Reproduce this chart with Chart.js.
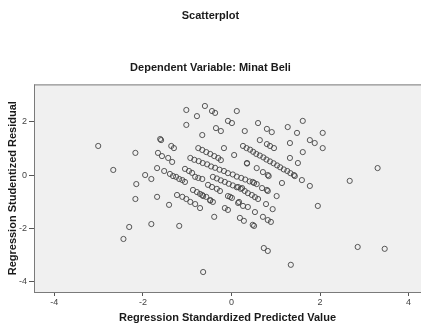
<!DOCTYPE html>
<html>
<head>
<meta charset="utf-8">
<script src="https://cdn.jsdelivr.net/npm/chart.js@4"></script>
<style>
  html, body { margin: 0; padding: 0; background: #fff; }
  #wrap { width: 421px; height: 325px; }
</style>
</head>
<body>
<div id="wrap"><canvas id="myChart"></canvas></div>
<script>
// regression standardized predicted value (x) and studentized residual (y)
const predicted = [
  -3.01, -2.67, -2.17, -2.15, -2.17, -2.31, -2.44, -1.95, -1.81, -1.68, -1.81, -1.41, -1.18, -0.64, -0.39,
  -1.02, -1.02, -0.78, -0.60, -0.44, -0.37, -0.66, 0.12, -0.35, -0.24, -0.08, 0.01, -0.17, 0.06, 0.60, 0.30,
  0.80, 0.91, 1.27, 1.48, 1.61, 0.64, 0.80, 0.87, 0.96, 1.32, 1.77, 1.88, 2.06, 2.06, 1.61, 1.32, 1.50,
  0.35, 0.35, 0.57, 0.71, 0.82, 1.59, 1.77, 1.43, 2.67, 3.30, 1.95, 2.85, 3.46, 1.34, 0.73, 0.82,
  -1.61, -1.59, -1.36, -1.30, -1.66, -1.57, -1.43, -1.34, -1.68, -1.52, -1.39, -1.32, -1.25, -1.18, -1.11, -1.05,
  -0.75, -0.66, -0.57, -0.48, -0.39, -0.30, -0.24,
  -0.93, -0.84, -0.74, -0.65, -0.55, -0.46, -0.37, -0.27, -0.17, -0.08, 0.03, 0.12, 0.22, 0.31, 0.41, 0.51,
  0.26, 0.34, 0.42, 0.49, 0.56, 0.64, 0.72, 0.79, 0.87, 0.95, 1.03, 1.10, 1.18, 1.26, 1.33, 1.41,
  -0.42, -0.33, -0.24, -0.15, -0.06, 0.03, 0.12, 0.21,
  0.48, 0.57, 0.69, 0.80, 0.82,
  -1.05, -0.96, -0.89, -0.82, -0.75, -0.66,
  -0.53, -0.44, -0.33, -0.26,
  -1.23, -1.11, -1.02, -0.93, -0.82, -0.71,
  -0.87, -0.78, -0.71, -0.64,
  0.15, 0.24, 0.30, 0.37, 0.46, 0.53, 0.60,
  -0.48, -0.48, -0.66, -0.57, -0.42, -0.08, -0.03, 0.01, 0.17, 0.78, 0.93, 1.02, 1.14, 0.84,
  0.53, 0.71, 0.82, 0.89, 0.19, 0.28, 0.48, 0.51, -0.15, -0.08, 0.15, 0.26, 0.37
];
const residual = [
  1.10, 0.20, 0.84, -0.33, -0.89, -1.94, -2.39, 0.01, -0.14, -0.81, -1.83, -1.11, -1.90, -3.63, -1.56,
  2.45, 1.89, 2.22, 2.60, 2.41, 2.34, 1.51, 2.41, 1.77, 1.66, 2.04, 1.96, 1.02, 0.76, 1.96, 1.66,
  1.74, 1.62, 1.81, 1.59, 2.04, 1.32, 1.17, 1.10, 1.02, 1.21, 1.32, 1.21, 1.59, 1.02, 0.87, 0.65, 0.46,
  0.46, 0.44, 0.27, 0.12, 0.01, -0.18, -0.40, -0.03, -0.21, 0.27, -1.15, -2.69, -2.76, -3.36, -2.73, -2.84,
  1.36, 1.32, 1.10, 1.02, 0.84, 0.72, 0.65, 0.50, 0.27, 0.16, 0.05, -0.03, -0.06, -0.14, -0.18, -0.25,
  1.02, 0.95, 0.87, 0.80, 0.72, 0.65, 0.57,
  0.65, 0.58, 0.53, 0.46, 0.41, 0.33, 0.28, 0.21, 0.16, 0.08, 0.03, -0.05, -0.10, -0.16, -0.23, -0.29,
  1.10, 1.02, 0.96, 0.88, 0.80, 0.74, 0.67, 0.59, 0.52, 0.45, 0.37, 0.30, 0.22, 0.16, 0.08, 0.01,
  -0.06, -0.12, -0.19, -0.25, -0.32, -0.38, -0.45, -0.51,
  -0.25, -0.33, -0.48, -0.55, -0.59,
  0.24, 0.16, 0.09, -0.06, -0.10, -0.14,
  -0.36, -0.44, -0.51, -0.59,
  -0.74, -0.81, -0.89, -1.00, -1.08, -1.23,
  -0.55, -0.63, -0.70, -0.78,
  -0.44, -0.48, -0.59, -0.67, -0.74, -0.82, -0.89,
  -0.93, -0.95, -0.74, -0.81, -1.00, -0.78, -0.81, -0.85, -1.00, -1.08, -1.27, -0.78, -0.29, -0.03,
  -1.38, -1.56, -1.68, -1.75, -1.60, -1.71, -1.86, -1.90, -1.23, -1.30, -1.04, -1.15, -1.19
];
const xTicks = [-4, -2, 0, 2, 4];
const yTicks = [-4, -2, 0, 2];

const FONT = 'Liberation Sans, Arial, sans-serif';

const points = predicted.map((x, i) => ({ x: x, y: residual[i] }));

// grey plot panel with a frame, like the SPSS output
const panel = {
  id: 'panel',
  beforeDatasetsDraw(chart) {
    const { ctx, chartArea: a } = chart;
    ctx.save();
    ctx.fillStyle = '#f0f0f0';
    ctx.fillRect(a.left, a.top, a.right - a.left, a.bottom - a.top);
    ctx.strokeStyle = '#7a7a7a';
    ctx.lineWidth = 1;
    ctx.strokeRect(a.left + 0.5, a.top + 0.5, a.right - a.left, a.bottom - a.top);
    ctx.restore();
  }
};

new Chart(document.getElementById('myChart'), {
  type: 'scatter',
  data: {
    datasets: [{
      data: points,
      pointStyle: 'circle',
      pointRadius: 2.6,
      pointBorderWidth: 1,
      pointBorderColor: 'rgba(70,70,70,0.9)',
      pointBackgroundColor: 'rgba(0,0,0,0)'
    }]
  },
  options: {
    responsive: true,
    maintainAspectRatio: false,
    animation: false,
    layout: { padding: 0, autoPadding: false },
    plugins: {
      legend: { display: false },
      tooltip: { enabled: false },
      title: {
        display: true,
        text: 'Scatterplot',
        color: '#1a1a1a',
        font: { family: FONT, size: 11, weight: 'bold' },
        padding: { top: 9, bottom: 39 }
      },
      subtitle: {
        display: true,
        text: 'Dependent Variable: Minat Beli',
        color: '#1a1a1a',
        font: { family: FONT, size: 11, weight: 'bold' },
        padding: { top: 0, bottom: 10 }
      }
    },
    scales: {
      x: {
        type: 'linear',
        min: -4.46,
        max: 4.28,
        afterBuildTicks: s => { s.ticks = xTicks.map(v => ({ value: v })); },
        afterFit: s => { s.height = 33; s.paddingLeft = 0; s.paddingRight = 0; },
        grid: { drawOnChartArea: false, tickLength: 4, color: '#555' },
        border: { color: '#666' },
        ticks: { color: '#444', font: { family: FONT, size: 9 }, padding: 1, maxRotation: 0 },
        title: {
          display: true,
          text: 'Regression Standardized Predicted Value',
          color: '#1a1a1a',
          font: { family: FONT, size: 11, weight: 'bold' },
          padding: { top: 0, bottom: 0 }
        }
      },
      y: {
        type: 'linear',
        min: -4.38,
        max: 3.41,
        afterBuildTicks: s => { s.ticks = yTicks.map(v => ({ value: v })); },
        afterFit: s => { s.width = 34; s.paddingTop = 0; s.paddingBottom = 0; },
        grid: { drawOnChartArea: false, tickLength: 5, color: '#555' },
        border: { color: '#666' },
        ticks: { color: '#444', font: { family: FONT, size: 9 }, padding: 2 },
        title: {
          display: true,
          text: 'Regression Studentized Residual',
          color: '#1a1a1a',
          font: { family: FONT, size: 11, weight: 'bold' },
          padding: { top: 6, bottom: 0 }
        }
      }
    }
  },
  plugins: [panel]
});
</script>
</body>
</html>
